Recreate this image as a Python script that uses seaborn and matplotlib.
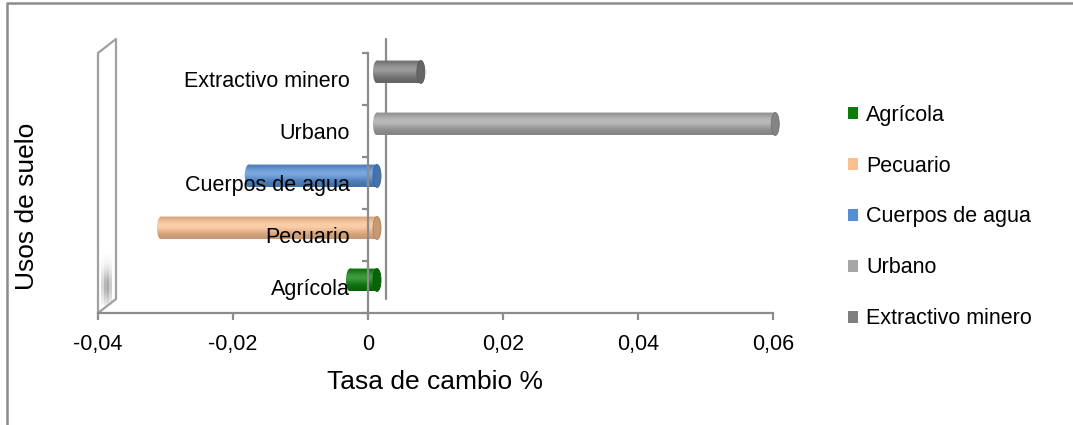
import numpy as np
import pandas as pd
import matplotlib
matplotlib.use("Agg")
import matplotlib.pyplot as plt
import seaborn as sns
from matplotlib.patches import Ellipse, PathPatch, Patch, Rectangle
from matplotlib.path import Path
from matplotlib.lines import Line2D
from matplotlib.transforms import ScaledTranslation, IdentityTransform
from matplotlib.ticker import FixedLocator, FuncFormatter

# Land-use categories and their rate of change (%)
usos = ["Agrícola", "Pecuario", "Cuerpos de agua", "Urbano", "Extractivo minero"]
tasas = [-0.004, -0.032, -0.019, 0.059, 0.0065]
colores = ["#0A7D0A", "#FAC090", "#558ED5", "#A6A6A6", "#7F7F7F"]
orden = ["Extractivo minero", "Urbano", "Cuerpos de agua", "Pecuario", "Agrícola"]
xticks = [-0.04, -0.02, 0.0, 0.02, 0.04, 0.06]

df = pd.DataFrame({"uso": usos, "tasa": tasas})
paleta = dict(zip(usos, colores))

sns.set_theme(style="white")
plt.rcParams["font.family"] = ["Liberation Sans", "DejaVu Sans"]
plt.rcParams["text.color"] = "black"
plt.rcParams["axes.labelcolor"] = "black"

DPI = 100
W, H = 1073, 425
fig = plt.figure(figsize=(W / DPI, H / DPI), dpi=DPI)
ax = fig.add_axes([98 / W, (H - 313) / H, 675 / W, 260 / H])
ax.set_axisbelow(False)

GRIS = "#8C8C8C"
FS = 15.5

sns.barplot(data=df, y="uso", x="tasa", hue="uso", order=orden,
            hue_order=orden, palette=paleta, orient="h", width=0.44,
            legend=False, saturation=1, ax=ax)

ax.set_xlim(-0.04, 0.06)
ax.set_ylim(len(orden) - 0.5, -0.5)

# depth offset for the cylinders (half of the 3-D wall depth)
prof = ScaledTranslation(9 / DPI, 7 / DPI, fig.dpi_scale_trans)
trans_bar = ax.transData + prof

px_per_x = 675 / 0.10
cap_w = 8 / px_per_x  # end-cap ellipse width in data units


def perfil(base, n=64):
    rgb = np.array(matplotlib.colors.to_rgb(base))
    t = np.linspace(0, 1, n)
    s = np.exp(-((t - 0.4) / 0.36) ** 2)
    fac = 0.78 + 0.22 * s
    col = np.clip(rgb[None, :] * fac[:, None], 0, 1)
    col = col + (1 - col) * (0.22 * s ** 2)[:, None]
    img = np.ones((n, 1, 4))
    img[:, 0, :3] = col
    return img


for patch in ax.patches:
    patch.set_transform(trans_bar)
    patch.set_edgecolor("none")
    patch.set_clip_on(False)
    x0 = patch.get_x()
    w = patch.get_width()
    y0 = patch.get_y()
    h = patch.get_height()
    left, right = min(x0, x0 + w), max(x0, x0 + w)
    yc = y0 + h / 2
    base = patch.get_facecolor()

    body = Rectangle((left, yc - h / 2), right - left, h)
    lcap = Ellipse((left, yc), cap_w, h)
    trazo = Path.make_compound_path(
        body.get_path().transformed(body.get_patch_transform()),
        lcap.get_path().transformed(lcap.get_patch_transform()),
    )
    clip = PathPatch(trazo, transform=trans_bar, facecolor="none",
                     edgecolor="none", clip_on=False)
    ax.add_patch(clip)
    im = ax.imshow(perfil(base), extent=(left - cap_w, right, yc + h / 2, yc - h / 2),
                   origin="upper", aspect="auto", transform=trans_bar,
                   interpolation="bilinear", zorder=1.2)
    im.set_clip_path(clip)
    im.set_clip_box(fig.bbox)
    rgb = np.array(matplotlib.colors.to_rgb(base))
    ax.add_patch(Ellipse((right, yc), cap_w, h, facecolor=rgb * 0.8,
                         edgecolor=rgb * 0.68, lw=0.6, transform=trans_bar,
                         zorder=1.3, clip_on=False))

ax.set_xlim(-0.04, 0.06)
ax.set_ylim(len(orden) - 0.5, -0.5)

# axes styling
for s in ["top", "right"]:
    ax.spines[s].set_visible(False)
ax.spines["left"].set_position(("data", 0))
ax.spines["left"].set_color(GRIS)
ax.spines["bottom"].set_color(GRIS)
ax.spines["left"].set_linewidth(1.6)
ax.spines["bottom"].set_linewidth(1.6)

ax.set_xticks(xticks)
ax.xaxis.set_major_formatter(FuncFormatter(
    lambda v, p: "0" if abs(v) < 1e-9 else f"{v:.2f}".replace(".", ",")))
ax.tick_params(axis="x", direction="out", length=5, width=1.6, color=GRIS,
               labelsize=FS, pad=10, labelcolor="black", bottom=True)
ax.yaxis.set_minor_locator(FixedLocator(np.arange(-0.5, len(orden), 1.0)))
ax.tick_params(axis="y", which="major", length=0, pad=13, labelsize=FS,
               labelcolor="black")
ax.tick_params(axis="y", which="minor", direction="out", length=4.5,
               width=1.6, color=GRIS, left=True)

ax.set_xlabel("Tasa de cambio %", fontsize=19, labelpad=11, color="black")
ax.set_ylabel("Usos de suelo", fontsize=19, color="black")
ax.yaxis.label.set(ha="center", va="center", rotation_mode="default")
ax.yaxis.set_label_coords((27 - 98) / 675, (313 - 206) / 260)

# 3-D frame decorations: side wall and back zero line
fig.canvas.draw()
D = np.array([18, 14])
fl_top = ax.transData.transform((-0.04, -0.5))
fl_bot = ax.transData.transform((-0.04, len(orden) - 0.5))
z_top = ax.transData.transform((0, -0.5))
z_bot = ax.transData.transform((0, len(orden) - 0.5))
ident = IdentityTransform()
muro = np.array([fl_bot, fl_top, fl_top + D, fl_bot + D, fl_bot])
ax.add_line(Line2D(muro[:, 0], muro[:, 1], color="#A0A0A0", lw=1.6,
                   transform=ident, clip_on=False, zorder=0.6))
ax.add_line(Line2D([z_top[0] + D[0]] * 2, [z_top[1] + D[1], z_bot[1] + D[1]],
                   color=GRIS, lw=1.6, transform=ident, clip_on=False,
                   zorder=0.6))
# soft shadow at the foot of the side wall
for k in range(26):
    yb = fl_bot[1] + 8 + k * 2.0
    a = 0.85 * np.exp(-((k - 9) / 8.5) ** 2)
    for j, fx in enumerate([0.45, 0.85, 1.0, 0.6]):
        ax.add_patch(Rectangle((fl_bot[0] + 3 + j * 2.8, yb), 2.8, 2.0,
                               facecolor="#999999", alpha=a * fx,
                               edgecolor="none", transform=ident,
                               clip_on=False, zorder=0.55))

# chart-area border (top and left)
fig.add_artist(Line2D([7, 7, W + 5], [-5, H - 3, H - 3], color=GRIS, lw=1.8,
                      transform=ident))

# legend
handles = [Patch(facecolor=paleta[u], edgecolor="none", label=u) for u in usos]
fig.legend(handles=handles, loc="upper left",
           bbox_to_anchor=(839 / W, 1 - 96 / H), frameon=False, fontsize=FS,
           handlelength=0.5, handleheight=0.5, handletextpad=0.35,
           labelspacing=1.39, borderaxespad=0, labelcolor="black")

fig.savefig("out.png", dpi=DPI)
